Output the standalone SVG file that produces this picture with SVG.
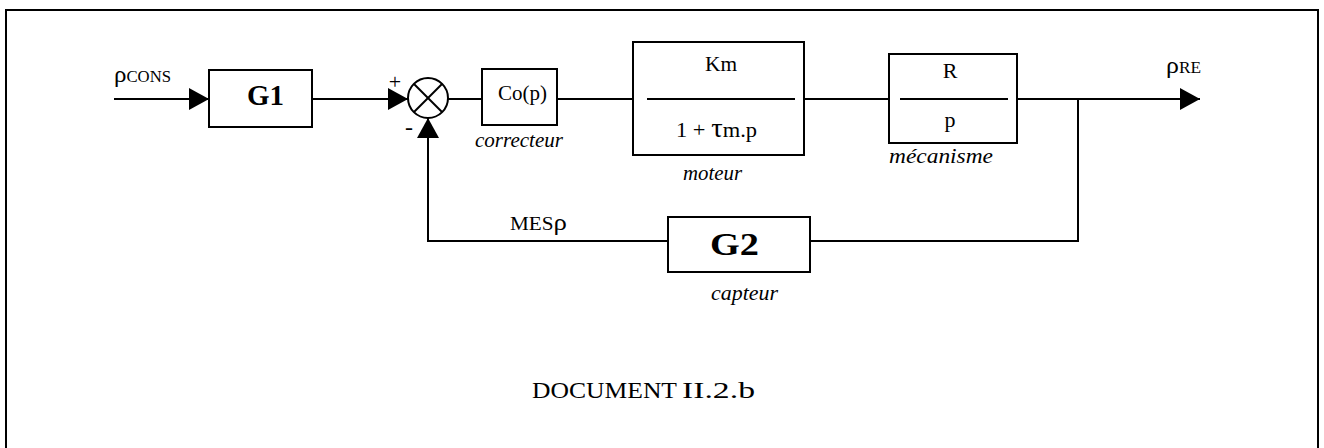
<svg xmlns="http://www.w3.org/2000/svg" width="1324" height="448" viewBox="0 0 1324 448">
<defs>
<marker id="arr" viewBox="0 0 20 22" refX="20" refY="11" markerWidth="20" markerHeight="22" markerUnits="userSpaceOnUse" orient="auto">
<path d="M0,0 L20,11 L0,22 Z" fill="#000"/>
</marker>
<style>
.bx{fill:#fff;stroke:#000;stroke-width:2}
.ln{fill:none;stroke:#000;stroke-width:2}
.t{font-family:"Liberation Serif","Times New Roman",serif;fill:#000}
.b{font-weight:bold}
.i{font-style:italic;font-size:22px}
.m{font-size:22px}
</style>
</defs>
<rect x="0" y="0" width="1324" height="448" fill="#fff"/>
<path class="ln" d="M6,448 L6,10 L1318,10 L1318,448" stroke-width="2.5"/>
<g id="connectors">
<line class="ln" x1="114" y1="99" x2="209" y2="99" marker-end="url(#arr)"/>
<line class="ln" x1="312" y1="99" x2="408" y2="99" marker-end="url(#arr)"/>
<line class="ln" x1="448" y1="99" x2="482" y2="99"/>
<line class="ln" x1="557" y1="99" x2="633" y2="99"/>
<line class="ln" x1="804" y1="99" x2="889" y2="99"/>
<line class="ln" x1="1017" y1="99" x2="1200" y2="99" marker-end="url(#arr)"/>
<polyline class="ln" points="1078,99 1078,241 810,241"/>
<polyline class="ln" points="668,241 428,241 428,118" marker-end="url(#arr)"/>
</g>
<g id="input">
<text class="t" x="114" y="82" font-size="24" textLength="57" lengthAdjust="spacingAndGlyphs">ρ<tspan font-size="16">CONS</tspan></text>
</g>
<g id="G1">
<rect class="bx" x="209" y="70" width="103" height="57"/>
<text class="t b" x="247" y="105" font-size="30" textLength="37" lengthAdjust="spacingAndGlyphs">G1</text>
</g>
<g id="sum">
<circle class="bx" cx="428" cy="98" r="20"/>
<line class="ln" x1="414" y1="84" x2="442" y2="112"/>
<line class="ln" x1="442" y1="84" x2="414" y2="112"/>
<text class="t" x="395" y="89" font-size="22" text-anchor="middle">+</text>
<text class="t" x="409" y="135" font-size="24" text-anchor="middle">-</text>
</g>
<g id="correcteur">
<rect class="bx" x="482" y="69" width="75" height="56"/>
<text class="t m" x="498" y="100" font-size="23" textLength="49" lengthAdjust="spacingAndGlyphs">Co(p)</text>
<text class="t i" x="475" y="147" textLength="88" lengthAdjust="spacingAndGlyphs">correcteur</text>
</g>
<g id="moteur">
<rect class="bx" x="633" y="42" width="171" height="113"/>
<line class="ln" x1="647" y1="99" x2="795" y2="99"/>
<text class="t m" x="705" y="71" textLength="32" lengthAdjust="spacingAndGlyphs">Km</text>
<text class="t m" x="676" y="137" textLength="81" lengthAdjust="spacingAndGlyphs">1 + <tspan font-size="28">τ</tspan>m.p</text>
<text class="t i" x="683" y="180" textLength="59" lengthAdjust="spacingAndGlyphs">moteur</text>
</g>
<g id="mecanisme">
<rect class="bx" x="889" y="54" width="128" height="89"/>
<line class="ln" x1="900" y1="99" x2="1008" y2="99"/>
<text class="t m" x="950" y="78" text-anchor="middle" font-size="20">R</text>
<text class="t m" x="950" y="127" text-anchor="middle" font-size="21">p</text>
<text class="t i" x="889" y="163" textLength="104" lengthAdjust="spacingAndGlyphs">mécanisme</text>
</g>
<g id="output">
<text class="t" x="1166" y="73" font-size="24" textLength="35" lengthAdjust="spacingAndGlyphs">ρ<tspan font-size="16">RE</tspan></text>
</g>
<g id="G2">
<rect class="bx" x="668" y="217" width="142" height="55"/>
<text class="t b" x="710" y="255" font-size="31" textLength="49" lengthAdjust="spacingAndGlyphs">G2</text>
<text class="t i" x="711" y="300" textLength="67" lengthAdjust="spacingAndGlyphs">capteur</text>
</g>
<g id="mes">
<text class="t" x="510" y="230" font-size="19" textLength="57" lengthAdjust="spacingAndGlyphs">MES<tspan font-size="24">ρ</tspan></text>
</g>
<text class="t" x="532" y="398" font-size="23" textLength="145" lengthAdjust="spacingAndGlyphs">DOCUMENT</text>
<text class="t" x="682" y="398" font-size="23" textLength="73" lengthAdjust="spacingAndGlyphs">II.2.b</text>
</svg>
